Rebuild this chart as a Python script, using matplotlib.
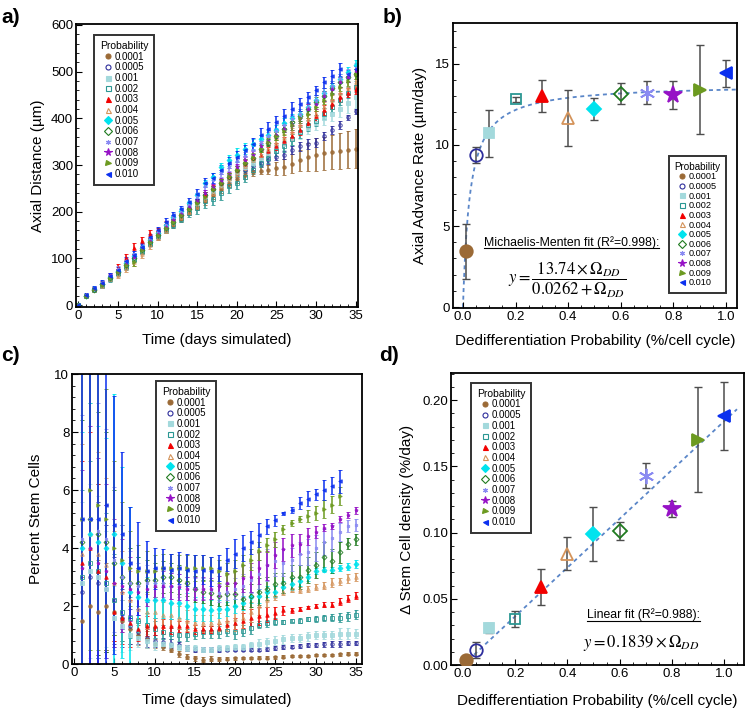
import numpy as np
import matplotlib
matplotlib.use("Agg")
import matplotlib.pyplot as plt
from matplotlib.lines import Line2D
from matplotlib.ticker import MultipleLocator

plt.rcParams['font.family'] = ['Liberation Sans', 'DejaVu Sans']
plt.rcParams['mathtext.fontset'] = 'stix'

# ---------------- data ----------------
prob_labels = ['0.0001', '0.0005', '0.001', '0.002', '0.003', '0.004',
               '0.005', '0.006', '0.007', '0.008', '0.009', '0.010']
colors = ['#9b6a36', '#2e2e9c', '#a3d9dc', '#2b9793', '#f20000', '#d4935a',
          '#00e3ee', '#1f7a1f', '#8a8af2', '#9612c6', '#6c9a20', '#0b30ef']
markers = ['o', 'o', 's', 's', '^', '^', 'D', 'D', (6, 2, 0), '*', '>', '<']
filled = [True, False, True, False, True, False, True, False, True, True, True, True]

# panel a: axial distance (um), days 0..35
dist_mean = [
    [0, 20, 33, 44, 58, 70, 86, 100, 116, 132, 146, 160, 172, 185, 198, 210, 222, 235, 248, 260, 270, 278, 285, 288, 290, 293, 296, 303, 310, 318, 322, 325, 328, 330, 333, 335],
    [0, 19, 33, 45, 60, 72, 88, 104, 120, 138, 152, 168, 180, 195, 208, 222, 236, 248, 260, 272, 282, 290, 298, 305, 310, 318, 322, 332, 340, 345, 348, 362, 375, 386, 402, 415],
    [0, 20, 33, 45, 58, 72, 88, 102, 118, 135, 150, 165, 178, 192, 205, 218, 232, 245, 258, 272, 285, 295, 305, 315, 325, 338, 345, 355, 370, 380, 390, 400, 410, 420, 432, 445],
    [0, 19, 32, 42, 55, 68, 82, 98, 115, 132, 148, 160, 172, 185, 198, 208, 222, 228, 240, 255, 262, 275, 290, 305, 315, 330, 340, 355, 370, 385, 395, 410, 425, 440, 455, 468],
    [0, 21, 35, 48, 62, 80, 100, 122, 138, 152, 160, 175, 185, 196, 210, 222, 236, 250, 262, 275, 290, 302, 315, 322, 330, 340, 352, 362, 375, 390, 405, 418, 430, 445, 455, 462],
    [0, 20, 32, 42, 56, 65, 80, 92, 110, 128, 145, 160, 175, 188, 200, 212, 228, 240, 255, 270, 282, 298, 310, 322, 335, 348, 358, 370, 385, 398, 410, 425, 440, 455, 465, 478],
    [0, 20, 34, 46, 60, 73, 90, 106, 122, 140, 155, 172, 188, 202, 218, 235, 262, 275, 295, 310, 322, 335, 345, 355, 365, 375, 390, 400, 410, 425, 440, 455, 470, 485, 500, 515],
    [0, 20, 33, 45, 58, 70, 86, 100, 118, 136, 150, 165, 178, 192, 205, 220, 235, 248, 262, 275, 290, 305, 315, 335, 348, 362, 378, 392, 405, 420, 435, 448, 465, 478, 488, 495],
    [0, 21, 35, 47, 63, 78, 95, 110, 125, 142, 156, 172, 188, 200, 215, 232, 255, 268, 282, 295, 308, 320, 332, 350, 362, 372, 385, 398, 410, 425, 440, 455, 470, 485, 495, 508],
    [0, 20, 34, 46, 62, 72, 88, 104, 120, 138, 152, 168, 182, 196, 210, 222, 240, 252, 265, 278, 295, 310, 322, 340, 352, 365, 378, 385, 400, 420, 430, 448, 462, 478, 488, 502],
    [0, 20, 34, 44, 58, 70, 85, 92, 118, 135, 150, 165, 178, 192, 205, 218, 232, 248, 262, 276, 290, 305, 318, 335, 350, 362, 372, 385, 400, 410, 425, 440, 452, 468, 480, 495],
    [0, 22, 36, 48, 62, 75, 95, 108, 125, 145, 160, 178, 192, 205, 220, 238, 262, 272, 290, 305, 318, 332, 345, 365, 378, 392, 405, 420, 430, 445, 460, 477, 490, 505, 495, 505],
]
dist_err = [
    [1, 3, 3, 4, 5, 5, 6, 6, 6, 6, 6, 6, 6, 6, 6, 6, 7, 7, 8, 8, 8, 8, 8, 8, 10, 14, 18, 20, 22, 30, 35, 35, 37, 38, 40, 42],
    [1, 3, 3, 4, 5, 5, 6, 6, 6, 6, 6, 6, 6, 6, 6, 6, 7, 7, 8, 8, 8, 8, 8, 8, 8, 8, 8, 9, 10, 10, 10, 9, 9, 9, 5, 6],
    [1, 3, 3, 4, 5, 5, 6, 6, 6, 6, 6, 6, 6, 6, 6, 6, 7, 7, 8, 8, 8, 8, 8, 8, 10, 10, 12, 12, 14, 14, 15, 15, 16, 18, 20, 22],
    [1, 3, 3, 4, 5, 5, 6, 6, 6, 6, 6, 6, 6, 6, 10, 12, 14, 14, 15, 15, 14, 12, 10, 10, 10, 10, 12, 12, 12, 12, 12, 12, 12, 12, 12, 12],
    [1, 3, 3, 4, 6, 8, 10, 12, 8, 8, 6, 6, 6, 6, 6, 6, 7, 7, 8, 8, 8, 8, 8, 8, 8, 8, 8, 9, 10, 10, 10, 10, 10, 10, 10, 10],
    [1, 3, 3, 4, 5, 6, 8, 8, 8, 8, 6, 6, 6, 6, 6, 6, 7, 7, 8, 8, 8, 8, 8, 8, 8, 8, 8, 9, 10, 10, 10, 10, 10, 10, 12, 12],
    [1, 3, 3, 4, 5, 5, 6, 6, 6, 6, 6, 6, 6, 6, 6, 6, 7, 8, 10, 12, 14, 12, 10, 10, 10, 10, 10, 10, 10, 10, 10, 10, 10, 10, 10, 10],
    [1, 3, 3, 4, 5, 5, 6, 6, 6, 6, 6, 6, 6, 6, 6, 6, 7, 7, 8, 8, 8, 8, 8, 8, 8, 8, 8, 9, 10, 10, 10, 10, 10, 10, 10, 10],
    [1, 3, 3, 4, 5, 5, 6, 6, 6, 6, 6, 6, 6, 6, 6, 8, 8, 8, 8, 8, 8, 8, 8, 8, 8, 8, 8, 9, 10, 10, 10, 10, 10, 10, 10, 10],
    [1, 3, 3, 4, 5, 5, 6, 6, 6, 6, 6, 6, 6, 6, 6, 6, 7, 7, 8, 8, 8, 8, 8, 8, 8, 8, 8, 9, 10, 10, 10, 10, 10, 10, 10, 10],
    [1, 3, 3, 4, 5, 5, 6, 8, 6, 6, 6, 6, 6, 6, 6, 6, 7, 7, 8, 8, 8, 8, 8, 8, 8, 8, 8, 9, 10, 10, 10, 10, 10, 10, 10, 10],
    [2, 4, 4, 5, 6, 6, 8, 8, 8, 8, 8, 8, 8, 8, 9, 10, 10, 10, 10, 12, 12, 12, 12, 14, 14, 14, 14, 14, 14, 12, 10, 12, 14, 14, 8, 8],
]

# panel c: percent stem cells, days 1..35 (0.009 and 0.010 stop at day 33)
stem_mean = [
    [1.5, 2.0, 1.8, 2.0, 1.8, 1.5, 1.2, 1.0, 0.85, 0.7, 0.6, 0.5, 0.35, 0.25, 0.2, 0.15, 0.18, 0.18, 0.18, 0.2, 0.2, 0.2, 0.22, 0.22, 0.24, 0.25, 0.27, 0.28, 0.28, 0.3, 0.3, 0.32, 0.33, 0.35, 0.36],
    [2.5, 3.0, 2.8, 2.6, 2.2, 1.6, 1.3, 1.1, 0.9, 0.8, 0.75, 0.7, 0.65, 0.55, 0.5, 0.5, 0.5, 0.5, 0.5, 0.5, 0.5, 0.5, 0.5, 0.52, 0.55, 0.58, 0.6, 0.62, 0.65, 0.65, 0.68, 0.7, 0.7, 0.72, 0.72],
    [2.8, 3.2, 3.0, 2.6, 1.6, 1.3, 1.0, 0.9, 0.8, 0.7, 0.7, 0.65, 0.6, 0.55, 0.55, 0.5, 0.5, 0.55, 0.55, 0.6, 0.6, 0.65, 0.7, 0.75, 0.8, 0.85, 0.9, 0.9, 0.95, 1.0, 1.0, 1.0, 1.05, 1.05, 1.05],
    [3.0, 3.5, 3.2, 2.8, 2.2, 1.8, 1.6, 1.5, 1.35, 1.2, 1.1, 1.05, 1.0, 1.0, 1.05, 1.1, 1.1, 1.1, 1.15, 1.1, 1.15, 1.25, 1.35, 1.4, 1.45, 1.45, 1.5, 1.5, 1.55, 1.55, 1.6, 1.6, 1.6, 1.65, 1.7],
    [3.5, 4.0, 3.2, 3.0, 1.8, 1.6, 1.4, 1.2, 1.3, 1.3, 1.3, 1.3, 1.3, 1.3, 1.2, 1.2, 1.2, 1.25, 1.35, 1.4, 1.5, 1.6, 1.65, 1.7, 1.75, 1.85, 1.85, 1.9, 1.95, 2.0, 2.05, 2.05, 2.15, 2.25, 2.35],
    [3.8, 4.5, 3.8, 3.4, 2.8, 2.5, 2.2, 1.9, 1.8, 1.8, 1.7, 1.7, 1.6, 1.5, 1.4, 1.4, 1.4, 1.45, 1.5, 1.55, 1.6, 1.8, 2.0, 2.2, 2.35, 2.5, 2.55, 2.55, 2.6, 2.65, 2.7, 2.8, 2.85, 2.95, 3.0],
    [4.0, 4.5, 4.2, 4.0, 4.5, 3.5, 2.5, 2.3, 2.2, 2.2, 2.2, 2.1, 2.1, 2.0, 1.9, 1.9, 1.85, 1.9, 1.9, 2.0, 2.1, 2.3, 2.35, 2.5, 2.5, 2.65, 2.75, 2.85, 3.0, 3.2, 3.25, 3.25, 3.3, 3.35, 3.45],
    [4.2, 5.0, 4.5, 4.2, 3.5, 3.0, 2.8, 2.8, 2.9, 2.9, 3.0, 3.0, 2.9, 2.8, 2.6, 2.5, 2.45, 2.35, 2.4, 2.4, 2.25, 2.35, 2.5, 2.6, 2.75, 2.8, 3.0, 3.0, 3.25, 3.4, 3.7, 3.55, 3.85, 4.15, 4.3],
    [4.3, 5.0, 4.6, 4.3, 3.6, 3.0, 2.8, 2.7, 2.8, 2.8, 2.8, 2.7, 2.7, 2.6, 2.6, 2.6, 2.55, 2.45, 2.5, 2.6, 2.7, 2.9, 3.1, 3.4, 3.55, 3.5, 3.6, 3.8, 3.85, 4.0, 4.2, 4.35, 4.55, 4.75, 4.8],
    [3.3, 4.0, 3.5, 3.2, 2.8, 2.7, 2.6, 2.5, 2.6, 2.7, 2.7, 2.7, 2.65, 2.6, 2.6, 2.6, 2.6, 2.7, 2.8, 2.8, 2.95, 3.0, 3.3, 3.4, 3.75, 3.95, 4.1, 4.15, 4.4, 4.55, 4.7, 4.75, 5.0, 5.15, 5.3],
    [5.0, 6.0, 5.5, 5.0, 4.0, 3.6, 3.3, 3.2, 3.2, 3.2, 3.3, 3.3, 3.3, 3.3, 3.3, 3.3, 3.3, 3.2, 3.1, 3.2, 3.4, 3.6, 3.9, 4.1, 4.3, 4.65, 4.85, 5.0, 5.1, 5.2, 5.35, 5.5, 5.8],
    [5.0, 5.0, 5.0, 5.5, 4.8, 4.5, 3.5, 3.3, 3.2, 3.3, 3.3, 3.25, 3.3, 3.25, 3.2, 3.25, 3.2, 3.3, 3.6, 3.8, 4.0, 4.2, 4.45, 4.75, 4.95, 5.2, 5.3, 5.55, 5.7, 5.85, 6.0, 6.15, 6.3],
]
stem_err = [
    [1.5, 2.0, 1.8, 1.5, 1.0, 0.7, 0.5, 0.35, 0.3, 0.15, 0.12, 0.1, 0.1, 0.08, 0.08, 0.08, 0.08, 0.06, 0.05, 0.05, 0.04, 0.04, 0.05, 0.04, 0.05, 0.05, 0.04, 0.04, 0.04, 0.04, 0.04, 0.04, 0.04, 0.05, 0.05],
    [2.5, 3.0, 2.8, 2.2, 1.5, 1.0, 0.6, 0.4, 0.3, 0.2, 0.15, 0.15, 0.12, 0.1, 0.08, 0.08, 0.07, 0.07, 0.06, 0.06, 0.06, 0.06, 0.06, 0.06, 0.06, 0.06, 0.06, 0.07, 0.08, 0.08, 0.08, 0.1, 0.1, 0.08, 0.08],
    [2.8, 3.0, 2.8, 2.0, 1.1, 0.9, 0.5, 0.3, 0.25, 0.2, 0.15, 0.12, 0.1, 0.1, 0.1, 0.08, 0.08, 0.1, 0.1, 0.1, 0.1, 0.12, 0.15, 0.15, 0.15, 0.15, 0.15, 0.15, 0.15, 0.15, 0.15, 0.15, 0.18, 0.18, 0.15],
    [3.0, 3.5, 3.0, 2.4, 1.6, 1.0, 0.7, 0.5, 0.4, 0.3, 0.25, 0.2, 0.2, 0.2, 0.2, 0.2, 0.2, 0.2, 0.2, 0.25, 0.2, 0.2, 0.12, 0.12, 0.12, 0.08, 0.06, 0.08, 0.08, 0.1, 0.1, 0.12, 0.15, 0.15, 0.15],
    [3.5, 4.0, 3.0, 2.5, 1.0, 0.9, 0.8, 0.4, 0.35, 0.3, 0.25, 0.25, 0.2, 0.2, 0.15, 0.12, 0.12, 0.12, 0.15, 0.2, 0.25, 0.3, 0.3, 0.25, 0.2, 0.15, 0.08, 0.06, 0.06, 0.06, 0.08, 0.1, 0.12, 0.12, 0.12],
    [3.8, 4.5, 3.5, 3.0, 1.8, 1.4, 1.0, 0.8, 0.6, 0.5, 0.45, 0.4, 0.4, 0.35, 0.3, 0.3, 0.3, 0.3, 0.35, 0.4, 0.4, 0.35, 0.3, 0.25, 0.15, 0.12, 0.08, 0.1, 0.1, 0.1, 0.12, 0.15, 0.12, 0.15, 0.15],
    [4.0, 4.5, 4.0, 3.8, 4.8, 3.3, 2.9, 1.4, 0.8, 0.6, 0.6, 0.55, 0.5, 0.45, 0.4, 0.4, 0.35, 0.3, 0.25, 0.25, 0.25, 0.2, 0.25, 0.2, 0.2, 0.2, 0.2, 0.15, 0.12, 0.1, 0.08, 0.1, 0.1, 0.12, 0.15],
    [4.2, 5.0, 4.2, 3.8, 2.5, 1.8, 1.2, 0.9, 0.7, 0.6, 0.55, 0.5, 0.5, 0.45, 0.45, 0.4, 0.4, 0.35, 0.35, 0.4, 0.35, 0.4, 0.45, 0.4, 0.4, 0.35, 0.4, 0.4, 0.45, 0.45, 0.5, 0.4, 0.35, 0.2, 0.2],
    [4.3, 5.0, 4.4, 3.8, 2.5, 1.8, 1.1, 0.8, 0.6, 0.5, 0.5, 0.45, 0.4, 0.4, 0.35, 0.35, 0.3, 0.3, 0.3, 0.35, 0.4, 0.45, 0.5, 0.55, 0.5, 0.45, 0.4, 0.4, 0.45, 0.45, 0.45, 0.45, 0.3, 0.2, 0.2],
    [3.4, 4.2, 3.6, 3.0, 2.2, 1.6, 1.1, 0.8, 0.6, 0.5, 0.5, 0.45, 0.45, 0.4, 0.4, 0.4, 0.35, 0.35, 0.35, 0.4, 0.45, 0.5, 0.55, 0.5, 0.45, 0.4, 0.4, 0.35, 0.3, 0.2, 0.12, 0.1, 0.1, 0.1, 0.12],
    [5.0, 5.5, 5.0, 4.5, 3.0, 2.0, 1.3, 0.9, 0.7, 0.55, 0.5, 0.5, 0.45, 0.45, 0.45, 0.45, 0.4, 0.4, 0.4, 0.4, 0.35, 0.35, 0.3, 0.25, 0.25, 0.15, 0.1, 0.1, 0.2, 0.25, 0.3, 0.3, 0.3],
    [6.0, 6.0, 6.0, 6.0, 4.45, 2.8, 1.9, 1.6, 1.05, 0.7, 0.65, 0.55, 0.55, 0.55, 0.55, 0.5, 0.5, 0.45, 0.4, 0.5, 0.45, 0.4, 0.4, 0.25, 0.2, 0.05, 0.1, 0.2, 0.25, 0.2, 0.35, 0.3, 0.4],
]

# panels b and d: per-probability summaries (x in %/cell cycle)
dd_prob = [0.01, 0.05, 0.1, 0.2, 0.3, 0.4, 0.5, 0.6, 0.7, 0.8, 0.9, 1.0]
rate = [3.45, 9.35, 10.7, 12.8, 13.0, 11.65, 12.2, 13.15, 13.2, 13.05, 13.4, 14.4]
rate_err = [1.7, 0.5, 1.45, 0.15, 1.0, 1.7, 0.7, 0.65, 0.7, 0.85, 2.75, 0.85]
dstem = [0.004, 0.011, 0.028, 0.035, 0.059, 0.084, 0.099, 0.101, 0.143, 0.118, 0.170, 0.188]
dstem_err = [0.001, 0.006, 0.004, 0.006, 0.0135, 0.0125, 0.0205, 0.007, 0.0095, 0.006, 0.0395, 0.0255]
mm_vmax, mm_k = 13.74, 0.0262
lin_slope = 0.1839

# ---------------- figure ----------------
fig = plt.figure(figsize=(7.48, 7.13), dpi=100)
ax_a = fig.add_axes([0.1016, 0.5694, 0.377, 0.3969])
ax_b = fig.add_axes([0.6056, 0.568, 0.3797, 0.3997])
ax_c = fig.add_axes([0.0963, 0.0687, 0.3877, 0.4067])
ax_d = fig.add_axes([0.603, 0.0673, 0.3917, 0.4095])


def style_axes(ax):
    for s in ax.spines.values():
        s.set_linewidth(1.3)
    ax.tick_params(which='both', direction='in', top=False, right=False,
                   labelsize=9.5, pad=2)
    ax.tick_params(which='major', length=4, width=0.8)
    ax.tick_params(which='minor', length=2, width=0.6)


def legend_handles(ms=3.6):
    hs = []
    for i in range(12):
        mfc = colors[i] if filled[i] else 'none'
        m = ms + 2 if markers[i] == '*' else ms
        hs.append(Line2D([], [], ls='none', marker=markers[i], color=colors[i],
                         mfc=mfc, mec=colors[i], ms=m, mew=0.8))
    return hs


def add_legend(ax, anchor, loc, fs=7):
    leg = ax.legend(legend_handles(), prob_labels, title='Probability',
                    loc=loc, bbox_to_anchor=anchor, fontsize=fs,
                    title_fontsize=fs + 0.5, frameon=True, fancybox=False,
                    edgecolor='black', handlelength=0.8, handletextpad=0.3,
                    labelspacing=0.07, borderpad=0.6, borderaxespad=0)
    leg.get_frame().set_linewidth(1.4)
    return leg


def time_series(ax, means, errs, days0):
    for i in range(12):
        y = np.array(means[i], dtype=float)
        e = np.array(errs[i], dtype=float)
        x = np.arange(days0, days0 + len(y))
        mfc = colors[i] if filled[i] else 'none'
        ax.errorbar(x, y, yerr=e, ls='none', marker=markers[i], ms=2.5,
                    color=colors[i], mfc=mfc, mec=colors[i], mew=0.7,
                    elinewidth=1.3, capsize=1.6, capthick=0.9, alpha=0.85)


# a) axial distance
time_series(ax_a, dist_mean, dist_err, 0)
ax_a.set_xlim(-0.3, 35.3)
ax_a.set_ylim(-4, 602)
ax_a.xaxis.set_major_locator(MultipleLocator(5))
ax_a.xaxis.set_minor_locator(MultipleLocator(1))
ax_a.yaxis.set_major_locator(MultipleLocator(100))
ax_a.yaxis.set_minor_locator(MultipleLocator(20))
ax_a.set_xlabel('Time (days simulated)', fontsize=11, labelpad=8)
ax_a.set_ylabel('Axial Distance (µm)', fontsize=11, labelpad=4)
style_axes(ax_a)
add_legend(ax_a, (0.064, 0.961), 'upper left')

# c) percent stem cells
time_series(ax_c, stem_mean, stem_err, 1)
ax_c.set_xlim(-0.25, 35.75)
ax_c.set_ylim(0, 10)
ax_c.xaxis.set_major_locator(MultipleLocator(5))
ax_c.xaxis.set_minor_locator(MultipleLocator(1))
ax_c.yaxis.set_major_locator(MultipleLocator(2))
ax_c.yaxis.set_minor_locator(MultipleLocator(0.4))
ax_c.set_xlabel('Time (days simulated)', fontsize=11, labelpad=10)
ax_c.set_ylabel('Percent Stem Cells', fontsize=11, labelpad=8)
style_axes(ax_c)
add_legend(ax_c, (0.29, 0.976), 'upper left')


def summary_points(ax, yv, ye):
    for i in range(12):
        mfc = colors[i] if filled[i] else 'none'
        m = markers[i]
        ms = 9
        if m == 's':
            ms = 6.5
        elif m == 'D':
            ms = 7
        elif m == '*':
            ms = 13
        elif m == (6, 2, 0):
            ms = 11
        ax.errorbar([dd_prob[i]], [yv[i]], yerr=[ye[i]], ls='none',
                    ecolor='#4d4d4d', elinewidth=1.1, capsize=3, capthick=1,
                    zorder=2)
        ax.plot([dd_prob[i]], [yv[i]], ls='none', marker=m, ms=ms,
                color=colors[i], mfc=mfc, mec=colors[i], mew=1.3, zorder=3)


def underline(ax, txt):
    fig.canvas.draw()
    bb = txt.get_window_extent()
    inv = ax.transAxes.inverted()
    (x0, y0), (x1, y1) = inv.transform([(bb.x0, bb.y0), (bb.x1, bb.y0)])
    ax.plot([x0, x1], [y0 + 0.002, y0 + 0.002], color='black', lw=0.8,
            transform=ax.transAxes, clip_on=False)


fit_line = dict(color='#5a86c8', lw=1.3, ls=(0, (2.2, 2.0)), zorder=1)

# b) axial advance rate
xf = np.linspace(0.0, 1.05, 400)
ax_b.plot(xf, mm_vmax * xf / (mm_k + xf), **fit_line)
summary_points(ax_b, rate, rate_err)
ax_b.set_xlim(-0.038, 1.042)
ax_b.set_ylim(-0.05, 17.5)
ax_b.xaxis.set_major_locator(MultipleLocator(0.2))
ax_b.xaxis.set_minor_locator(MultipleLocator(0.05))
ax_b.yaxis.set_major_locator(MultipleLocator(5))
ax_b.yaxis.set_minor_locator(MultipleLocator(1))
ax_b.xaxis.set_major_formatter(matplotlib.ticker.FormatStrFormatter('%.1f'))
ax_b.set_xlabel('Dedifferentiation Probability (%/cell cycle)', fontsize=11, labelpad=8)
ax_b.set_ylabel('Axial Advance Rate (µm/day)', fontsize=11, labelpad=6)
style_axes(ax_b)
add_legend(ax_b, (0.961, 0.053), 'lower right', fs=6.6)
t_b = ax_b.text(0.109, 0.218, 'Michaelis-Menten fit (R²=0.998):', transform=ax_b.transAxes,
                fontsize=8.8, ha='left', va='baseline')
ax_b.text(0.4, 0.095, r'$y = \dfrac{13.74 \times \Omega_{DD}}{0.0262 + \Omega_{DD}}$',
          transform=ax_b.transAxes, fontsize=12, ha='center', va='center')

# d) change in stem cell density
ax_d.plot(xf, lin_slope * xf, **fit_line)
summary_points(ax_d, dstem, dstem_err)
ax_d.set_xlim(-0.046, 1.077)
ax_d.set_ylim(0, 0.2204)
ax_d.xaxis.set_major_locator(MultipleLocator(0.2))
ax_d.xaxis.set_minor_locator(MultipleLocator(0.05))
ax_d.yaxis.set_major_locator(MultipleLocator(0.05))
ax_d.yaxis.set_minor_locator(MultipleLocator(0.01))
ax_d.xaxis.set_major_formatter(matplotlib.ticker.FormatStrFormatter('%.1f'))
ax_d.yaxis.set_major_formatter(matplotlib.ticker.FormatStrFormatter('%.2f'))
ax_d.set_xlabel('Dedifferentiation Probability (%/cell cycle)', fontsize=11, labelpad=10)
ax_d.set_ylabel('Δ Stem Cell density (%/day)', fontsize=11, labelpad=6)
style_axes(ax_d)
add_legend(ax_d, (0.068, 0.966), 'upper left')
t_d = ax_d.text(0.464, 0.16, 'Linear fit (R²=0.988):', transform=ax_d.transAxes,
                fontsize=8.8, ha='left', va='baseline')
ax_d.text(0.65, 0.075, r'$y = 0.1839 \times \Omega_{DD}$', transform=ax_d.transAxes,
          fontsize=12, ha='center', va='center')

# panel letters
for lab, x, y in [('a)', 0.002, 0.975), ('b)', 0.512, 0.975),
                  ('c)', 0.002, 0.502), ('d)', 0.507, 0.502)]:
    fig.text(x, y, lab, fontsize=15, fontweight='bold', ha='left', va='center')

underline(ax_b, t_b)
underline(ax_d, t_d)

fig.savefig('out.png', dpi=100)
